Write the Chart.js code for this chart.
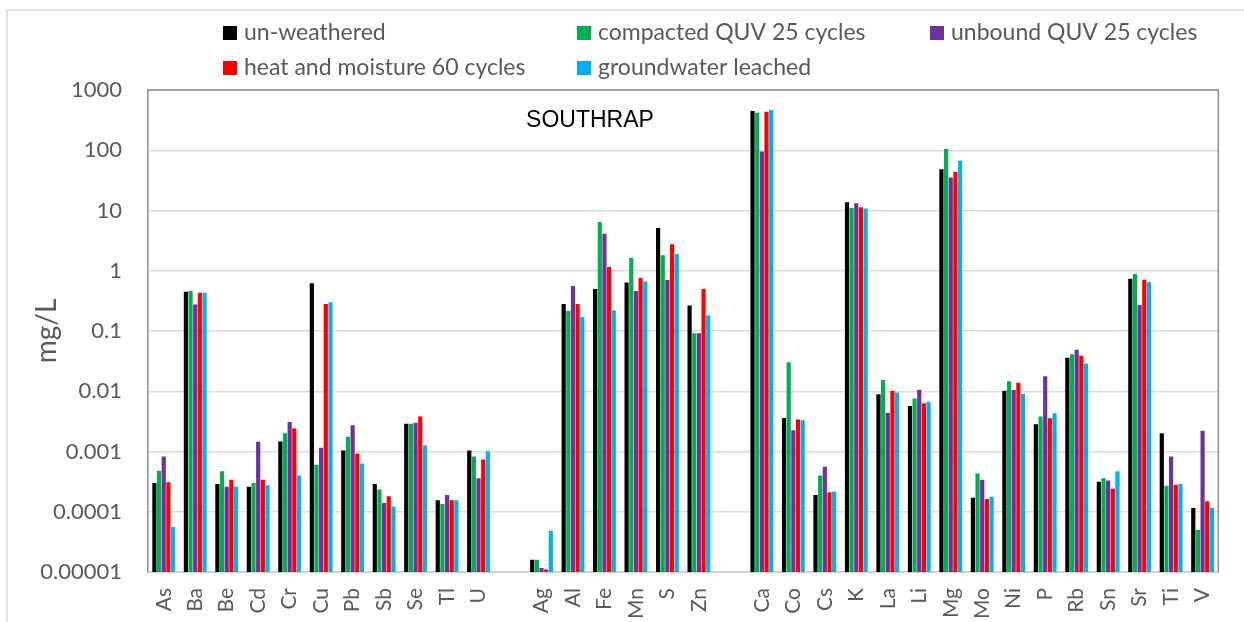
<!DOCTYPE html>
<html>
<head>
<meta charset="utf-8">
<script src="https://cdn.jsdelivr.net/npm/chart.js@4.4.1/dist/chart.umd.min.js"></script>
<style>
  html, body { margin: 0; padding: 0; background: #fff; }
  #wrap { width: 1244px; height: 622px; }
</style>
</head>
<body>
<div id="wrap"><canvas id="chart" width="1244" height="622"></canvas></div>
<script>
// Elements (blank entries separate the three groups)
var elements = ["As", "Ba", "Be", "Cd", "Cr", "Cu", "Pb", "Sb", "Se", "Tl", "U", "",
  "Ag", "Al", "Fe", "Mn", "S", "Zn", "",
  "Ca", "Co", "Cs", "K", "La", "Li", "Mg", "Mo", "Ni", "P", "Rb", "Sn", "Sr", "Ti", "V"];

// Values in mg/L
var unweathered = [0.0003, 0.45, 0.00029, 0.00026, 0.00147, 0.62, 0.00104, 0.00029, 0.0029, 0.000155, 0.00104, null,
  0.000016, 0.28, 0.5, 0.64, 5.1, 0.265, null,
  447, 0.0036, 0.00019, 13.7, 0.0089, 0.0057, 48.6, 0.00017, 0.0102, 0.00284, 0.036, 0.000316, 0.74, 0.002, 0.000115];
var compactedQUV = [0.00048, 0.46, 0.00047, 0.0003, 0.002, 0.0006, 0.00176, 0.000233, 0.0029, 0.000135, 0.00083, null,
  0.000016, 0.214, 6.45, 1.63, 1.8, 0.092, null,
  420, 0.0303, 0.0004, 11, 0.0154, 0.0076, 105, 0.00043, 0.0146, 0.0038, 0.041, 0.00036, 0.88, 0.00027, 0.00005];
var unboundQUV = [0.00083, 0.276, 0.00026, 0.00145, 0.0031, 0.00115, 0.00274, 0.00014, 0.003, 0.00019, 0.00036, null,
  0.0000117, 0.556, 4.1, 0.46, 0.7, 0.092, null,
  95, 0.00226, 0.00056, 13.2, 0.0044, 0.0106, 35.3, 0.00034, 0.0105, 0.0177, 0.049, 0.00033, 0.27, 0.00083, 0.0022];
var heatMoisture = [0.00031, 0.43, 0.00034, 0.00034, 0.0024, 0.28, 0.00093, 0.00018, 0.0038, 0.000155, 0.00074, null,
  0.000011, 0.28, 1.15, 0.76, 2.75, 0.5, null,
  437, 0.0034, 0.00021, 11.3, 0.0102, 0.0063, 43.4, 0.000163, 0.0139, 0.00355, 0.039, 0.00024, 0.71, 0.00028, 0.00015];
var groundwater = [0.000056, 0.43, 0.00026, 0.000275, 0.0004, 0.3, 0.00063, 0.000122, 0.00127, 0.000155, 0.00101, null,
  0.0000484, 0.17, 0.22, 0.665, 1.9, 0.183, null,
  466, 0.0033, 0.000216, 10.8, 0.0095, 0.0067, 66.8, 0.000178, 0.009, 0.0043, 0.029, 0.00047, 0.65, 0.00029, 0.000115];

var seriesNames = ["un-weathered", "compacted QUV 25 cycles", "unbound QUV 25 cycles",
  "heat and moisture 60 cycles", "groundwater leached"];
var seriesColors = ["#000000", "#00b050", "#7030a0", "#ff0000", "#00b0f0"];
var yTicks = [0.00001, 0.0001, 0.001, 0.01, 0.1, 1, 10, 100, 1000];

var seriesData = [unweathered, compactedQUV, unboundQUV, heatMoisture, groundwater];
var datasets = seriesData.map(function (d, i) {
  return {
    label: seriesNames[i],
    data: d,
    backgroundColor: seriesColors[i],
    borderWidth: 0,
    categoryPercentage: 0.74,
    barPercentage: 0.9
  };
});

// Legend in a fixed grid, plot frame, outer border and the "SOUTHRAP" label
var decorPlugin = {
  id: "decor",
  afterDraw: function (chart) {
    var ctx = chart.ctx;
    var a = chart.chartArea;
    ctx.save();

    // outer border
    ctx.strokeStyle = "#d9d9d9";
    ctx.lineWidth = 1.5;
    ctx.beginPath();
    ctx.moveTo(7, 622);
    ctx.lineTo(7, 10);
    ctx.lineTo(1244, 10);
    ctx.stroke();

    // top and right of plot frame
    ctx.strokeStyle = "#8c8c8c";
    ctx.lineWidth = 1.5;
    ctx.beginPath();
    ctx.moveTo(a.left, a.top);
    ctx.lineTo(a.right, a.top);
    ctx.lineTo(a.right, a.bottom);
    ctx.stroke();

    // legend
    var cols = [223, 577, 930];
    var rows = [33, 68];
    ctx.font = "23px Lato";
    ctx.textBaseline = "middle";
    ctx.textAlign = "left";
    chart.data.datasets.forEach(function (ds, i) {
      var x = cols[i % 3];
      var y = rows[Math.floor(i / 3)];
      ctx.fillStyle = ds.backgroundColor;
      ctx.fillRect(x, y - 7, 14, 14);
      ctx.fillStyle = "#595959";
      ctx.fillText(ds.label, x + 21, y);
    });

    // site name
    ctx.font = "23px 'Liberation Sans'";
    ctx.fillStyle = "#000";
    ctx.textAlign = "center";
    ctx.fillText("SOUTHRAP", 590, 121);
    ctx.restore();
  }
};

var ctx = document.getElementById("chart").getContext("2d");
var chart = new Chart(ctx, {
  type: "bar",
  data: {
    labels: elements,
    datasets: datasets
  },
  options: {
    responsive: false,
    animation: false,
    layout: {
      padding: { top: 90, right: 14, left: 0, bottom: 0 }
    },
    plugins: {
      legend: { display: false },
      tooltip: { enabled: false }
    },
    scales: {
      x: {
        grid: { display: false, drawTicks: false },
        border: { color: "#d0d0d0", width: 2 },
        ticks: {
          autoSkip: false,
          maxRotation: 90,
          minRotation: 90,
          padding: 16,
          color: "#595959",
          font: { family: "Lato", size: 21 }
        },
        afterFit: function (scale) { scale.height = 50; }
      },
      y: {
        type: "logarithmic",
        min: 0.00001,
        max: 1000,
        grid: { color: "#d9d9d9", lineWidth: 1.5, drawTicks: false },
        border: { color: "#8c8c8c", width: 1.5 },
        title: {
          display: true,
          text: "mg/L",
          color: "#595959",
          font: { family: "Lato", size: 28 },
          padding: { top: 30, bottom: 0 }
        },
        ticks: {
          padding: 26,
          color: "#595959",
          font: { family: "Lato", size: 22 },
          callback: function (v) {
            if (v >= 1) return String(v);
            return v.toFixed(Math.round(-Math.log10(v)));
          }
        },
        afterBuildTicks: function (scale) {
          scale.ticks = yTicks.map(function (v) { return { value: v }; });
        },
        afterFit: function (scale) { scale.width = 148; }
      }
    }
  },
  plugins: [decorPlugin]
});
</script>
</body>
</html>
